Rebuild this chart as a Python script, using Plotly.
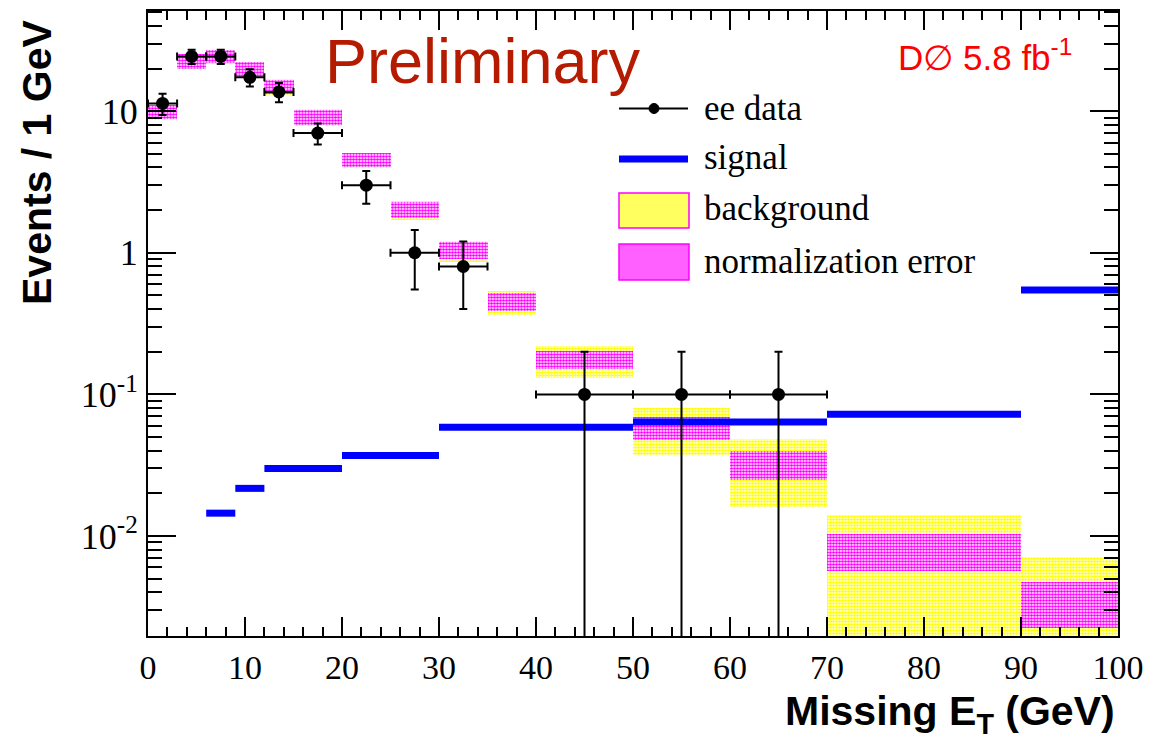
import plotly.graph_objects as go

# ---------------- data ----------------
bin_lo = [0, 3, 6, 9, 12, 15, 20, 25, 30, 35, 40, 50, 60, 70, 90]
bin_hi = [3, 6, 9, 12, 15, 20, 25, 30, 35, 40, 50, 60, 70, 90, 100]

bkg_lo = [8.63, 19.8, 21.5, 17.1, 13.0, 7.9, 3.96, 1.71, 0.859, 0.363, 0.130, 0.0375, 0.0161, 0.0005, 0.0005]
bkg_hi = [11.1, 25.4, 27.1, 22.3, 16.8, 10.3, 5.10, 2.33, 1.21, 0.534, 0.219, 0.0796, 0.0481, 0.0140, 0.00714]
norm_lo = [8.87, 20.0, 21.7, 17.3, 13.2, 8.0, 4.03, 1.76, 0.897, 0.387, 0.150, 0.0476, 0.0248, 0.00569, 0.00223]
norm_hi = [11.0, 25.2, 26.9, 22.1, 16.6, 10.2, 5.06, 2.29, 1.19, 0.523, 0.201, 0.069, 0.0398, 0.0103, 0.00471]

sig_lo = [6, 9, 12, 20, 30, 50, 70, 90]
sig_hi = [9, 12, 20, 30, 50, 70, 90, 100]
sig_val = [0.0145, 0.0217, 0.030, 0.037, 0.0587, 0.0637, 0.0723, 0.545]

data_x = [1.5, 4.5, 7.5, 10.5, 13.5, 17.5, 22.5, 27.5, 32.5, 45, 55, 65]
data_xerr = [1.5, 1.5, 1.5, 1.5, 1.5, 2.5, 2.5, 2.5, 2.5, 5, 5, 5]
data_y = [11.33, 24.33, 24.33, 17.33, 13.67, 7.0, 3.0, 1.0, 0.8, 0.1, 0.1, 0.1]
data_err_up = [1.94, 2.85, 2.85, 2.40, 2.13, 1.18, 0.78, 0.45, 0.40, 0.10, 0.10, 0.10]
data_err_dn = [1.94, 2.85, 2.85, 2.40, 2.13, 1.18, 0.78, 0.45, 0.40, 0.10, 0.10, 0.10]

y_major = [0.01, 0.1, 1, 10]
y_major_text = ["10<sup>-2</sup>", "10<sup>-1</sup>", "1", "10"]

# ---------------- layout geometry ----------------
W, H = 1151, 739
L, R, T, B = 148, 1118, 11, 636


def px(X):
    return (X - L) / (R - L)


def py(Y):
    return (B - Y) / (B - T)


centers = [(a + b) / 2 for a, b in zip(bin_lo, bin_hi)]
widths = [b - a for a, b in zip(bin_lo, bin_hi)]

YELLOW = "#FFFF00"
MAGENTA = "#FF00FF"
SERIF = "Liberation Serif, Times New Roman, serif"
SANS = "Liberation Sans, Arial, Helvetica, sans-serif"

fig = go.Figure()

# background (total) band
fig.add_trace(go.Bar(
    x=centers, width=widths, base=bkg_lo,
    y=[h - l for l, h in zip(bkg_lo, bkg_hi)],
    marker=dict(color="white",
                pattern=dict(shape=".", fgcolor=YELLOW, bgcolor="white",
                             size=3, solidity=0.65, fillmode="replace"),
                line=dict(width=0)),
    showlegend=False, hoverinfo="skip"))

# normalization error band
fig.add_trace(go.Bar(
    x=centers, width=widths, base=norm_lo,
    y=[h - l for l, h in zip(norm_lo, norm_hi)],
    marker=dict(color="white",
                pattern=dict(shape=".", fgcolor=MAGENTA, bgcolor="white",
                             size=3, solidity=0.65, fillmode="replace"),
                line=dict(width=0)),
    showlegend=False, hoverinfo="skip"))

# signal (separate horizontal segments)
sx, sy = [], []
for a, b, v in zip(sig_lo, sig_hi, sig_val):
    sx += [a, b, None]
    sy += [v, v, None]
fig.add_trace(go.Scatter(x=sx, y=sy, mode="lines",
                         line=dict(color="#0000FF", width=7),
                         showlegend=False, hoverinfo="skip"))

# data
fig.add_trace(go.Scatter(
    x=data_x, y=data_y, mode="markers",
    marker=dict(color="black", size=13, symbol="circle"),
    error_x=dict(type="data", array=data_xerr, color="black", thickness=2, width=4),
    error_y=dict(type="data", array=data_err_up, arrayminus=data_err_dn,
                 symmetric=False, color="black", thickness=2, width=4),
    showlegend=False))

shapes = []
annotations = []

# ---- manual legend ----
lx0, lx1 = 619, 688
# ee data
shapes.append(dict(type="line", xref="paper", yref="paper",
                   x0=px(lx0), x1=px(lx1), y0=py(108.5), y1=py(108.5),
                   line=dict(color="black", width=2)))
shapes.append(dict(type="circle", xref="paper", yref="paper",
                   x0=px(649), x1=px(659), y0=py(113.5), y1=py(103.5),
                   fillcolor="black", line=dict(color="black", width=1)))
# signal
shapes.append(dict(type="line", xref="paper", yref="paper",
                   x0=px(lx0), x1=px(lx1), y0=py(159), y1=py(159),
                   line=dict(color="#0000FF", width=7)))
# background box
shapes.append(dict(type="rect", xref="paper", yref="paper",
                   x0=px(lx0), x1=px(lx1 + 1), y0=py(228), y1=py(193),
                   fillcolor="#FFFF60", line=dict(color=MAGENTA, width=1.5)))
# normalization box
shapes.append(dict(type="rect", xref="paper", yref="paper",
                   x0=px(lx0), x1=px(lx1 + 1), y0=py(280), y1=py(244),
                   fillcolor="#FF60FF", line=dict(color=MAGENTA, width=1.5)))

for txt, yc in [("ee data", 108), ("signal", 157), ("background", 209), ("normalization error", 261)]:
    annotations.append(dict(text=txt, xref="paper", yref="paper",
                            x=px(702), y=py(yc), xanchor="left", yanchor="middle",
                            showarrow=False,
                            font=dict(family=SERIF, size=35, color="black")))

# Preliminary
annotations.append(dict(text="Preliminary", xref="paper", yref="paper",
                        x=px(483), y=py(61), xanchor="center", yanchor="middle",
                        showarrow=False,
                        font=dict(family=SANS, size=63, color="#B51B00")))
# DØ luminosity
annotations.append(dict(text="D\u2205 5.8 fb<sup>-1</sup>", xref="paper", yref="paper",
                        x=px(896), y=py(55), xanchor="left", yanchor="middle",
                        showarrow=False,
                        font=dict(family=SANS, size=35, color="#FF0000")))
# axis titles
annotations.append(dict(text="<b>Missing E<sub>T</sub> (GeV)</b>", xref="paper", yref="paper",
                        x=px(1117), y=py(714), xanchor="right", yanchor="middle",
                        showarrow=False,
                        font=dict(family=SANS, size=41, color="black")))
annotations.append(dict(text="<b>Events / 1 GeV</b>", xref="paper", yref="paper",
                        x=px(37), y=py(162), xanchor="center", yanchor="middle",
                        textangle=-90, showarrow=False,
                        font=dict(family=SANS, size=41, color="black")))

y_minor = [m * 10 ** e for e in (-3, -2, -1, 0) for m in range(2, 10)] + [20, 30, 40, 50]

fig.update_layout(
    width=W, height=H,
    margin=dict(l=L, r=W - R, t=T, b=H - B, pad=0),
    paper_bgcolor="white", plot_bgcolor="white",
    barmode="overlay", bargap=0,
    showlegend=False,
    shapes=shapes, annotations=annotations,
    xaxis=dict(range=[0, 100], showgrid=False, zeroline=False, automargin=False,
               showline=True, linecolor="black", linewidth=2, mirror="allticks",
               ticks="inside", ticklen=19, tickwidth=1.5, tickcolor="black",
               tickmode="linear", tick0=0, dtick=10,
               minor=dict(ticks="inside", ticklen=9, tickwidth=1.5, tickcolor="black",
                          tickmode="linear", tick0=0, dtick=2, showgrid=False),
               tickfont=dict(family=SERIF, size=34, color="black"),
               ticklabelstandoff=0),
    yaxis=dict(type="log", range=[-2.706, 1.707], showgrid=False, zeroline=False,
               automargin=False,
               showline=True, linecolor="black", linewidth=2, mirror="allticks",
               ticks="inside", ticklen=28, tickwidth=1.5, tickcolor="black",
               tickmode="array", tickvals=y_major, ticktext=y_major_text,
               minor=dict(ticks="inside", ticklen=14, tickwidth=1.5, tickcolor="black",
                          tickmode="array", tickvals=y_minor, showgrid=False),
               tickfont=dict(family=SERIF, size=36, color="black"),
               ticklabelstandoff=1),
)

fig.write_html("out.html")
